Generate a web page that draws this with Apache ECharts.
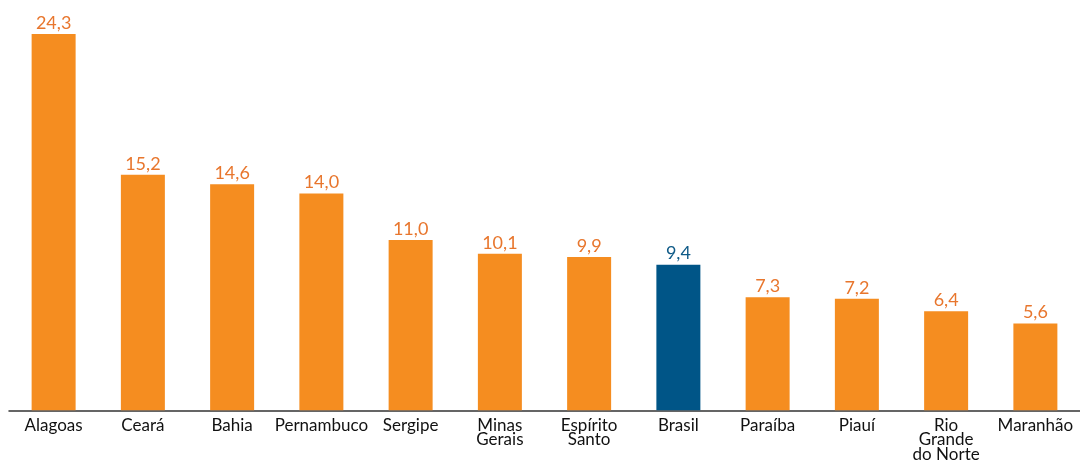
<!DOCTYPE html>
<html><head><meta charset="utf-8">
<script src="https://cdn.jsdelivr.net/npm/echarts@6/dist/echarts.min.js"></script>
<style>html,body{margin:0;padding:0;background:#fff;overflow:hidden;width:1080px;height:463px}#c{width:1080px;height:463px;overflow:hidden}</style>
</head><body><div id="c"></div>
<script>
const categories = ["Alagoas","Ceará","Bahia","Pernambuco","Sergipe","Minas\nGerais","Espírito\nSanto","Brasil","Paraíba","Piauí","Rio\nGrande\ndo Norte","Maranhão"];
const values = [24.3,15.2,14.6,14.0,11.0,10.1,9.9,9.4,7.3,7.2,6.4,5.6];
const highlight = "Brasil";

const orange = "#F58D20", orangeText = "#E8762D", blue = "#005587", blueText = "#0F5A87";
const chart = echarts.init(document.getElementById('c'));
chart.setOption({
  animation:false,
  grid:{left:9, width:1074, top:7.6, height:404.4, containLabel:false},
  xAxis:{type:'category', data:categories,
    axisLine:{lineStyle:{color:'#333', width:1.5}},
    axisTick:{show:false},
    axisLabel:{interval:0, color:'#111', fontFamily:'Lato', fontSize:17, lineHeight:14.5, margin:8}},
  yAxis:{type:'value', min:0, max:26, show:false, splitLine:{show:false}},
  series:[{type:'bar', barWidth:44,
    data: values.map((v,i)=>{
      const hl = categories[i]===highlight;
      return {value:v, itemStyle:{color: hl?blue:orange},
        label:{color: hl?blueText:orangeText}};
    }),
    label:{show:true, position:'top', distance:2, fontFamily:'Lato', fontSize:18,
      formatter:p=>p.value.toFixed(1).replace('.',',')}
  }]
});
</script></body></html>
